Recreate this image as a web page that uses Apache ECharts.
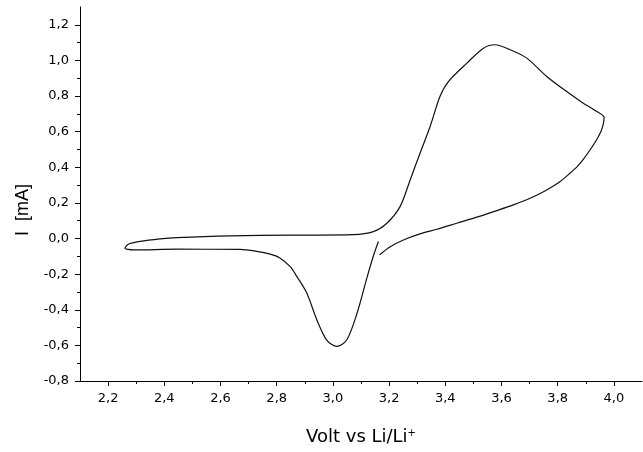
<!DOCTYPE html>
<html>
<head>
<meta charset="utf-8">
<script src="https://cdn.jsdelivr.net/npm/echarts@6/dist/echarts.min.js"></script>
<style>html,body{margin:0;padding:0;background:#fff}#c{width:643px;height:452px}</style>
</head>
<body>
<div id="c"></div>
<script>
// Cyclic voltammogram, traced in sweep order
const voltage = [3.166,3.204,3.251,3.310,3.370,3.441,3.512,3.583,3.642,3.702,3.761,3.809,3.844,3.870,3.891,3.915,3.939,3.955,3.963,3.965,
  3.930,3.891,3.832,3.761,3.690,3.631,3.577,3.536,3.477,3.411,3.381,3.346,3.310,3.275,3.239,3.192,3.144,3.073,2.848,2.634,2.445,2.385,2.314,2.272,2.260,
  2.290,2.445,2.670,2.729,2.777,2.810,2.848,2.872,2.907,2.943,2.978,3.014,3.049,3.085,3.121,3.144,3.162];
const current = [-0.092,-0.046,-0.008,0.026,0.052,0.086,0.120,0.157,0.189,0.226,0.273,0.320,0.367,0.405,0.445,0.497,0.556,0.605,0.648,0.679,
  0.722,0.760,0.825,0.910,1.013,1.060,1.088,1.069,0.985,0.881,0.797,0.629,0.479,0.329,0.179,0.086,0.039,0.022,0.019,0.015,0.005,-0.002,-0.016,-0.032,-0.054,
  -0.064,-0.060,-0.061,-0.072,-0.088,-0.108,-0.158,-0.214,-0.306,-0.457,-0.570,-0.606,-0.570,-0.424,-0.221,-0.098,-0.017];
const xTicks = [2.2,2.4,2.6,2.8,3.0,3.2,3.4,3.6,3.8,4.0];
const xMinorTicks = [2.3,2.5,2.7,2.9,3.1,3.3,3.5,3.7,3.9];
const yTicks = [-0.8,-0.6,-0.4,-0.2,0.0,0.2,0.4,0.6,0.8,1.0,1.2];
const yMinorTicks = [-0.7,-0.5,-0.3,-0.1,0.1,0.3,0.5,0.7,0.9,1.1];
const xRange = [2.1, 4.1];
const yRange = [-0.8, 1.3];

const fmt = v => v.toFixed(1).replace('.', ',');
const font = 'Liberation Sans, Arial, sans-serif';
const wide = 'DejaVu Sans, Verdana, sans-serif';
const data = voltage.map((v, i) => [v, current[i]]);

const chart = echarts.init(document.getElementById('c'), null, {renderer: 'canvas'});
chart.setOption({
  animation: false,
  backgroundColor: '#fff',
  grid: {left: 80, right: 1, top: 7, bottom: 71},
  xAxis: [{
    type: 'value', position: 'bottom', min: xRange[0], max: xRange[1],
    splitLine: {show: false},
    axisLine: {onZero: false, lineStyle: {color: '#000', width: 1}},
    axisTick: {length: 5, lineStyle: {color: '#000'}, customValues: xTicks},
    axisLabel: {customValues: xTicks, formatter: fmt, color: '#000', fontSize: 13, fontFamily: wide, margin: 11},
    name: 'Volt vs Li/Li{s|+}', nameLocation: 'middle', nameGap: 47,
    nameTextStyle: {color: '#000', fontSize: 18, fontFamily: wide,
      rich: {s: {fontSize: 10, verticalAlign: 'top', padding: [0,0,9,0], fontFamily: wide, color: '#000'}}}
  }, {
    type: 'value', position: 'bottom', min: xRange[0], max: xRange[1],
    splitLine: {show: false}, axisLine: {show: false, onZero: false},
    axisTick: {length: 3, lineStyle: {color: '#000'}, customValues: xMinorTicks},
    axisLabel: {show: false}
  }],
  yAxis: [{
    type: 'value', position: 'left', min: yRange[0], max: yRange[1],
    splitLine: {show: false},
    axisLine: {show: true, onZero: false, lineStyle: {color: '#000', width: 1}},
    axisTick: {show: true, length: 5, lineStyle: {color: '#000'}, customValues: yTicks},
    axisLabel: {customValues: yTicks, formatter: fmt, color: '#000', fontSize: 13, fontFamily: wide, margin: 11},
    name: 'I  [mA]', nameLocation: 'middle', nameGap: 48,
    nameTextStyle: {color: '#000', fontSize: 18, fontFamily: font, padding: [0, 32, 0, 0]}
  }, {
    type: 'value', position: 'left', min: yRange[0], max: yRange[1],
    splitLine: {show: false}, axisLine: {show: false, onZero: false},
    axisTick: {show: true, length: 3, lineStyle: {color: '#000'}, customValues: yMinorTicks},
    axisLabel: {show: false}
  }],
  series: [{
    type: 'line', data: data, xAxisIndex: 0, yAxisIndex: 0,
    showSymbol: false, smooth: 0.3,
    lineStyle: {color: '#111', width: 1.2}
  }]
});
</script>
</body>
</html>
